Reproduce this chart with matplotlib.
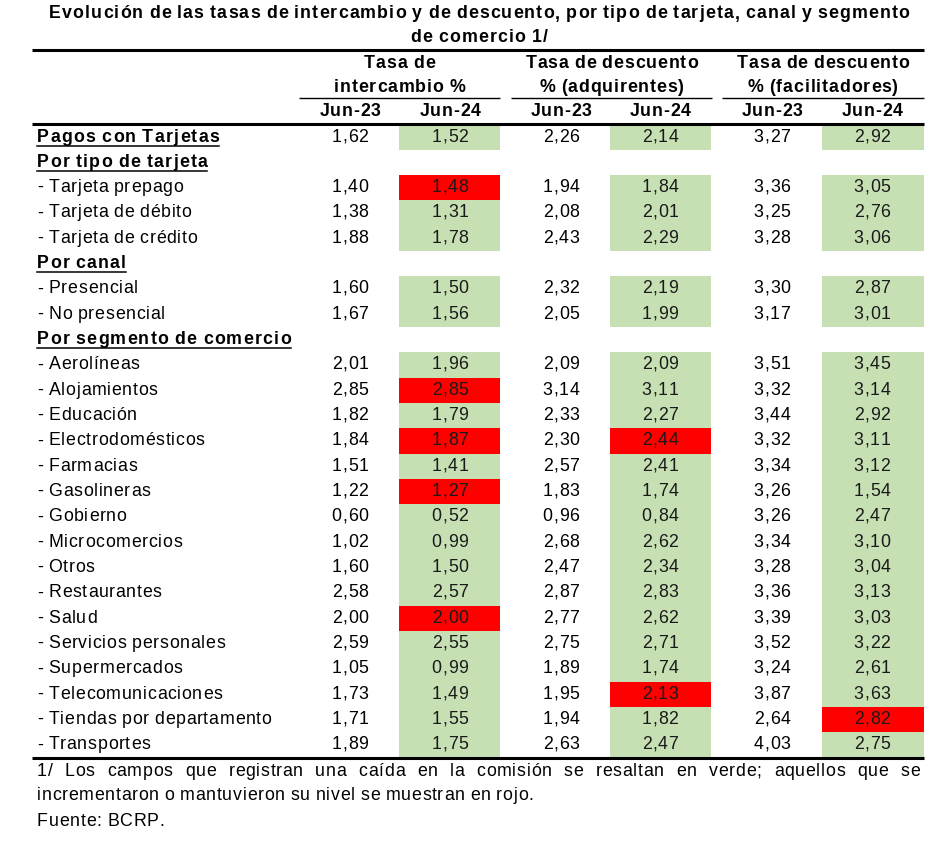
import matplotlib
matplotlib.use("Agg")
import matplotlib.pyplot as plt
from matplotlib.font_manager import FontProperties, findfont
from matplotlib.ft2font import LOAD_NO_HINTING
from matplotlib import font_manager

plt.rcParams['font.family'] = ['Liberation Sans', 'DejaVu Sans']

title_lines = ["Evolución de las tasas de intercambio y de descuento, por tipo de tarjeta, canal y segmento",
               "de comercio 1/"]
group_titles = [("Tasa de", "intercambio %"),
                ("Tasa de descuento", "% (adquirentes)"),
                ("Tasa de descuento", "% (facilitadores)")]
periods = ["Jun-23", "Jun-24"]

labels = ["Pagos con Tarjetas", "Por tipo de tarjeta", "- Tarjeta prepago", "- Tarjeta de débito",
          "- Tarjeta de crédito", "Por canal", "- Presencial", "- No presencial",
          "Por segmento de comercio", "- Aerolíneas", "- Alojamientos", "- Educación",
          "- Electrodomésticos", "- Farmacias", "- Gasolineras", "- Gobierno", "- Microcomercios",
          "- Otros", "- Restaurantes", "- Salud", "- Servicios personales", "- Supermercados",
          "- Telecomunicaciones", "- Tiendas por departamento", "- Transportes"]
headers = ["Pagos con Tarjetas", "Por tipo de tarjeta", "Por canal", "Por segmento de comercio"]

inter_23 = ["1,62", None, "1,40", "1,38", "1,88", None, "1,60", "1,67", None, "2,01", "2,85", "1,82",
            "1,84", "1,51", "1,22", "0,60", "1,02", "1,60", "2,58", "2,00", "2,59", "1,05", "1,73",
            "1,71", "1,89"]
inter_24 = ["1,52", None, "1,48", "1,31", "1,78", None, "1,50", "1,56", None, "1,96", "2,85", "1,79",
            "1,87", "1,41", "1,27", "0,52", "0,99", "1,50", "2,57", "2,00", "2,55", "0,99", "1,49",
            "1,55", "1,75"]
adq_23 = ["2,26", None, "1,94", "2,08", "2,43", None, "2,32", "2,05", None, "2,09", "3,14", "2,33",
          "2,30", "2,57", "1,83", "0,96", "2,68", "2,47", "2,87", "2,77", "2,75", "1,89", "1,95",
          "1,94", "2,63"]
adq_24 = ["2,14", None, "1,84", "2,01", "2,29", None, "2,19", "1,99", None, "2,09", "3,11", "2,27",
          "2,44", "2,41", "1,74", "0,84", "2,62", "2,34", "2,83", "2,62", "2,71", "1,74", "2,13",
          "1,82", "2,47"]
fac_23 = ["3,27", None, "3,36", "3,25", "3,28", None, "3,30", "3,17", None, "3,51", "3,32", "3,44",
          "3,32", "3,34", "3,26", "3,26", "3,34", "3,28", "3,36", "3,39", "3,52", "3,24", "3,87",
          "2,64", "4,03"]
fac_24 = ["2,92", None, "3,05", "2,76", "3,06", None, "2,87", "3,01", None, "3,45", "3,14", "2,92",
          "3,11", "3,12", "1,54", "2,47", "3,10", "3,04", "3,13", "3,03", "3,22", "2,61", "3,63",
          "2,82", "2,75"]

# Jun-24 cells that rose or stayed (red); the rest of Jun-24 cells are green
red_inter = ["- Tarjeta prepago", "- Alojamientos", "- Electrodomésticos", "- Gasolineras", "- Salud"]
red_adq = ["- Electrodomésticos", "- Telecomunicaciones"]
red_fac = ["- Tiendas por departamento"]

footnote = ("1/ Los campos que registran una caída en la comisión se resaltan en verde; aquellos que se",
            "incrementaron o mantuvieron su nivel se muestran en rojo.",
            "Fuente: BCRP.")

GREEN = "#C6E0B4"
RED = "#FF0000"

W, H = 951, 843
DPI = 100
fig = plt.figure(figsize=(W / DPI, H / DPI), dpi=DPI)
ax = fig.add_axes([0, 0, 1, 1])
ax.set_xlim(0, W)
ax.set_ylim(H, 0)
ax.axis("off")

FS = 12.8
_fonts = {}


def advances(s, bold):
    # glyph advance widths in pixels
    if bold not in _fonts:
        prop = FontProperties(family="Liberation Sans", weight="bold" if bold else "normal")
        f = font_manager.get_font(findfont(prop))
        f.set_size(FS, DPI)
        _fonts[bold] = f
    f = _fonts[bold]
    return [f.load_char(ord(c), flags=LOAD_NO_HINTING).linearHoriAdvance / 65536 for c in s]


def layout(s, bold, track):
    adv = advances(s, bold)
    pos, x = [], 0.0
    for c, a in zip(s, adv):
        pos.append(x)
        # spaces get no extra tracking, letters do
        x += a + (0 if c == " " else track)
    return pos, x - (track if s and s[-1] != " " else 0)


def spaced(x, y, s, ha="left", bold=False, track=None, color="black"):
    """Draw text with a little extra letter spacing; returns (x0, x1)."""
    if track is None:
        track = 1.0 if bold else 0.7
    pos, total = layout(s, bold, track)
    if ha == "center":
        x0 = x - total / 2
    else:
        x0 = x
    for c, p in zip(s, pos):
        if c != " ":
            ax.text(x0 + p, y, c, ha="left", va="center", fontsize=FS,
                    fontweight="bold" if bold else "normal", color=color)
    return x0, x0 + total


def width_of(s, bold=False, track=0.7):
    return layout(s, bold, track)[1]


x_left, x_right = 32, 924

# title
for i, line in enumerate(title_lines):
    spaced(479, 14 + 24 * i, line, ha="center", bold=True, track=1.15)

ax.plot([x_left, x_right], [50, 50], color="black", lw=2.2, solid_capstyle="butt")

group_spans = [(299, 500), (511, 712), (722, x_right)]
col_x = [(350, 450), (561, 660), (772, 872)]
cell_spans = [(399, 500), (610, 711), (822, x_right)]
for (a, b), (t1, t2), (c1, c2) in zip(group_spans, group_titles, col_x):
    xc = (a + b) / 2
    spaced(xc, 63, t1, ha="center", bold=True, track=0.9)
    spaced(xc, 88, t2, ha="center", bold=True, track=0.9)
    ax.plot([a, b], [98, 98], color="black", lw=1.0, solid_capstyle="butt")
    spaced(c1, 112, periods[0], ha="center", bold=True, track=0.7)
    spaced(c2, 112, periods[1], ha="center", bold=True, track=0.7)

ax.plot([x_left, x_right], [123.5, 123.5], color="black", lw=2.2, solid_capstyle="butt")

row_h = 25.33
y0 = 137
columns = [(inter_23, inter_24, red_inter), (adq_23, adq_24, red_adq), (fac_23, fac_24, red_fac)]
for i, lab in enumerate(labels):
    yc = y0 + row_h * i
    if lab in headers:
        xa, xb = spaced(37, yc, lab, bold=True, track=1.3)
        ax.plot([xa, xb], [yc + 8.5, yc + 8.5], color="black", lw=1.1)
    else:
        spaced(37, yc, lab)
    for (v23, v24, reds), (c1, c2), (s1, s2) in zip(columns, col_x, cell_spans):
        if v23[i] is None:
            continue
        color = RED if lab in reds else GREEN
        ax.add_patch(plt.Rectangle((s1, yc - row_h / 2), s2 - s1, row_h, color=color, lw=0))
        spaced(c1, yc, v23[i], ha="center", track=0.7)
        spaced(c2, yc, v24[i], ha="center", track=0.7, color="#1a1a1a")

y_bottom = y0 + row_h * (len(labels) - 1) + row_h / 2
ax.plot([x_left, x_right], [y_bottom, y_bottom], color="black", lw=2.2, solid_capstyle="butt")

# footnote, first line justified
fy = [771, 796, 821]
fx0, fx1 = 37, 920
words = footnote[0].split(" ")
widths = [width_of(w) for w in words]
gap = (fx1 - fx0 - sum(widths)) / (len(words) - 1)
x = fx0
for w, wd in zip(words, widths):
    spaced(x, fy[0], w)
    x += wd + gap
spaced(fx0, fy[1], footnote[1])
spaced(fx0, fy[2], footnote[2])

fig.savefig("out.png", dpi=DPI)
